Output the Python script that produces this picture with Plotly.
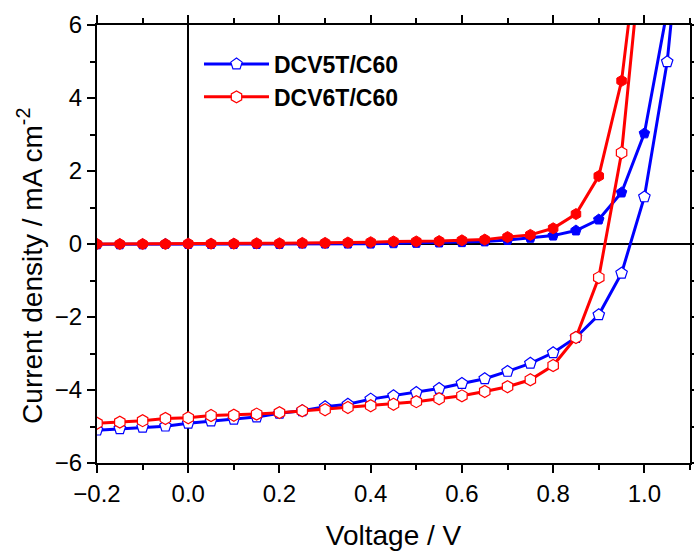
import plotly.graph_objects as go

voltage = [-0.2, -0.15, -0.1, -0.05, 0.0, 0.05, 0.1, 0.15, 0.2, 0.25, 0.3, 0.35, 0.4,
           0.45, 0.5, 0.55, 0.6, 0.65, 0.7, 0.75, 0.8, 0.85, 0.9, 0.95, 1.0, 1.05, 1.1]

# DCV5T/C60 (blue)
dcv5t_dark = [-0.01, -0.01, -0.01, 0.0, 0.0, 0.0, 0.0, 0.0, 0.0, 0.01, 0.01, 0.01, 0.01,
              0.02, 0.03, 0.04, 0.05, 0.07, 0.11, 0.17, 0.23, 0.37, 0.67, 1.41, 3.03, 6.4]
dcv5t_light = [-5.10, -5.06, -5.02, -4.99, -4.91, -4.85, -4.80, -4.74, -4.64, -4.57, -4.46, -4.39, -4.25,
               -4.16, -4.07, -3.96, -3.82, -3.69, -3.49, -3.27, -2.98, -2.56, -1.94, -0.80, 1.29, 4.99, 11.3]

# DCV6T/C60 (red)
dcv6t_dark = [0.0, 0.0, 0.0, 0.0, 0.01, 0.01, 0.01, 0.02, 0.02, 0.03, 0.03, 0.04, 0.05,
              0.07, 0.07, 0.08, 0.10, 0.12, 0.19, 0.25, 0.43, 0.82, 1.86, 4.47, 9.6]
dcv6t_light = [-4.91, -4.88, -4.84, -4.78, -4.76, -4.70, -4.69, -4.66, -4.62, -4.57, -4.54, -4.48, -4.43,
               -4.39, -4.32, -4.24, -4.16, -4.04, -3.91, -3.72, -3.33, -2.56, -0.92, 2.50, 8.8]

BLUE = "#0000ff"
RED = "#ff0000"
FONT = "Arial, 'Liberation Sans', sans-serif"

fig = go.Figure()

fig.add_trace(go.Scatter(
    x=voltage[:len(dcv5t_dark)], y=dcv5t_dark, mode="lines+markers",
    line=dict(color=BLUE, width=3),
    marker=dict(symbol="pentagon", size=11, color=BLUE, line=dict(color=BLUE, width=1)),
    showlegend=False))
fig.add_trace(go.Scatter(
    x=voltage[:len(dcv6t_dark)], y=dcv6t_dark, mode="lines+markers",
    line=dict(color=RED, width=3),
    marker=dict(symbol="hexagon", size=11, color=RED, line=dict(color=RED, width=1)),
    showlegend=False))
fig.add_trace(go.Scatter(
    x=voltage[:len(dcv5t_light)], y=dcv5t_light, mode="lines+markers", name="DCV5T/C60",
    legendgroup="a",
    line=dict(color=BLUE, width=3),
    marker=dict(symbol="pentagon", size=12, color="white", line=dict(color=BLUE, width=1.2))))
fig.add_trace(go.Scatter(
    x=voltage[:len(dcv6t_light)], y=dcv6t_light, mode="lines+markers", name="DCV6T/C60",
    legendgroup="b",
    line=dict(color=RED, width=3),
    marker=dict(symbol="hexagon", size=12, color="white", line=dict(color=RED, width=1.2))))

axis_common = dict(
    showline=True, linecolor="black", linewidth=2, mirror="allticks",
    ticks="outside", ticklen=8, tickwidth=1.5, tickcolor="black",
    showgrid=False, zeroline=True, zerolinecolor="black", zerolinewidth=2,
    tickfont=dict(family=FONT, size=24, color="black"),
    automargin=False,
)

fig.update_xaxes(
    range=[-0.2, 1.1], tick0=0, dtick=0.2, tickformat=".1f",
    minor=dict(dtick=0.1, ticks="outside", ticklen=5, tickwidth=1.5, tickcolor="black"),
    title=dict(text="Voltage / V", font=dict(family=FONT, size=28, color="black"), standoff=20),
    **axis_common)
fig.update_yaxes(
    range=[-6, 6], tick0=0, dtick=2,
    minor=dict(dtick=1, ticks="outside", ticklen=5, tickwidth=1.5, tickcolor="black"),
    **axis_common)

fig.add_annotation(
    text="Current density / mA cm<sup>-2</sup>", xref="paper", yref="paper",
    x=-0.113, y=0.45, xanchor="center", yanchor="middle", textangle=-90, showarrow=False,
    font=dict(family=FONT, size=28, color="black"))

fig.update_layout(
    width=694, height=551,
    margin=dict(l=97, r=4, t=25, b=88),
    paper_bgcolor="white", plot_bgcolor="white",
    legend=dict(x=0.172, y=0.96, xanchor="left", yanchor="top",
                bgcolor="rgba(0,0,0,0)", itemwidth=65, traceorder="grouped", tracegroupgap=0,
                font=dict(family=FONT, size=23, color="black", weight="bold")),
)

fig.write_html("out.html", config={"displayModeBar": False},
               post_script="document.body.style.margin='0';")
